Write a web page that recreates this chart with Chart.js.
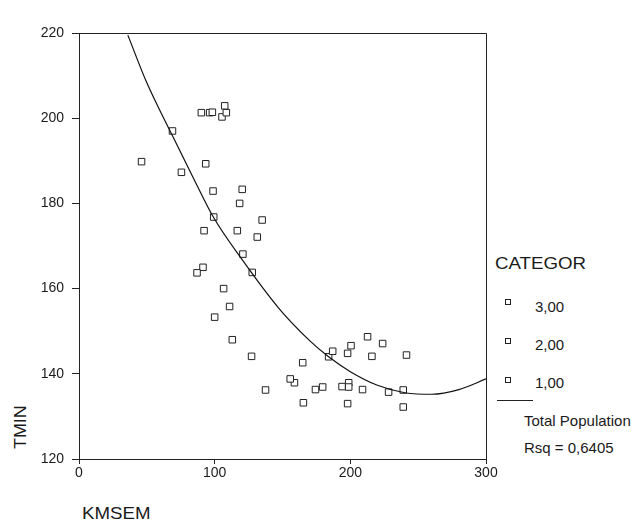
<!DOCTYPE html>
<html>
<head>
<meta charset="utf-8">
<script src="https://cdn.jsdelivr.net/npm/chart.js@4/dist/chart.umd.min.js"></script>
<style>
  html, body { margin: 0; padding: 0; background: #fff; }
  #wrap { position: relative; width: 634px; height: 530px; font-family: "Liberation Sans", Arial, sans-serif; color: #1a1a1a; }
  #chart { position: absolute; left: 0; top: 0; }
  .lbl { position: absolute; white-space: nowrap; line-height: 17px; }
  .wide { transform: scaleX(1.1); transform-origin: left top; }
  .mk { position: absolute; width: 4px; height: 4px; border: 1px solid #222; background: #fff; }
</style>
</head>
<body>
<div id="wrap">
  <div class="lbl" style="left:11px; top:449px; font-size:17px; line-height:19px; transform: rotate(-90deg) scaleX(1.05); transform-origin: left top;">TMIN</div>
  <div class="lbl wide" style="left:82px; top:504px; font-size:17px; line-height:19px;">KMSEM</div>
  <div class="lbl wide" style="left:495px; top:254px; font-size:17px; line-height:19px;">CATEGOR</div>
  <div class="mk" style="left:505px; top:299px;"></div>
  <div class="lbl" style="left:535px; top:298px; font-size:15px;">3,00</div>
  <div class="mk" style="left:505px; top:338px;"></div>
  <div class="lbl" style="left:535px; top:336px; font-size:15px;">2,00</div>
  <div class="mk" style="left:505px; top:377px;"></div>
  <div class="lbl" style="left:535px; top:374px; font-size:15px;">1,00</div>
  <div style="position:absolute; left:497px; top:400px; width:36px; height:1px; background:#222;"></div>
  <div class="lbl" style="left:524px; top:412px; font-size:15px;">Total Population</div>
  <div class="lbl" style="left:524px; top:439px; font-size:15px;">Rsq = 0,6405</div>
  <canvas id="chart" width="634" height="530"></canvas>
</div>
<script>
// Data
const cat3X = [90.2, 96.3, 98.3, 107.4, 108.6, 46.1, 93.4, 75.5, 98.8, 120.3, 165.4, 198.0, 239.0, 241.4, 155.7, 164.9, 137.5, 113.0, 100.0];
const cat3Y = [201.3, 201.3, 201.4, 202.9, 201.3, 189.8, 189.3, 187.3, 182.9, 183.3, 133.2, 133.0, 132.2, 144.4, 138.8, 142.6, 136.2, 148.0, 153.3];

const cat2X = [105.4, 118.4, 135.0, 92.2, 116.7, 131.4, 106.6, 127.2, 212.7, 215.9, 223.8, 209.0, 228.2, 239.0, 179.6, 193.9];
const cat2Y = [200.3, 180.0, 176.1, 173.6, 173.6, 172.1, 160.0, 144.1, 148.7, 144.1, 147.1, 136.3, 135.7, 136.2, 136.9, 137.0];

const cat1X = [68.9, 99.3, 120.8, 91.4, 87.0, 127.7, 111.0, 158.8, 174.3, 184.0, 187.0, 198.0, 200.5, 198.8, 198.8];
const cat1Y = [197.0, 176.8, 168.1, 165.0, 163.7, 163.8, 155.8, 137.9, 136.3, 144.0, 145.3, 144.8, 146.6, 137.9, 136.9];

// Total population fit line
const fitX = [36, 50, 69, 85, 99, 120, 147, 170, 184, 200, 220, 241, 260, 280, 300];
const fitY = [219.5, 208.3, 195.8, 185.5, 176.8, 166.9, 155.5, 147.8, 144.0, 140.5, 137.3, 135.5, 135.2, 136.3, 138.8];

const xTicks = [0, 100, 200, 300];
const yTicks = [120, 140, 160, 180, 200, 220];

function toPoints(xs, ys) {
  return xs.map((x, i) => ({ x: x, y: ys[i] }));
}

function pointSet(label, xs, ys) {
  return {
    label: label,
    data: toPoints(xs, ys),
    pointStyle: 'rect',
    pointRadius: 4.6,
    pointBorderWidth: 1,
    pointBorderColor: '#222',
    pointBackgroundColor: '#fff',
    showLine: false
  };
}

// top and right edges of the frame
const framePlugin = {
  id: 'frame',
  afterDraw(chart) {
    const a = chart.chartArea;
    const ctx = chart.ctx;
    ctx.save();
    ctx.strokeStyle = '#222';
    ctx.lineWidth = 1;
    ctx.beginPath();
    ctx.moveTo(a.left, a.top + 0.5);
    ctx.lineTo(a.right + 0.5, a.top + 0.5);
    ctx.lineTo(a.right + 0.5, a.bottom);
    ctx.stroke();
    ctx.restore();
  }
};

new Chart(document.getElementById('chart'), {
  type: 'scatter',
  data: {
    datasets: [
      {
        label: 'Total Population',
        data: toPoints(fitX, fitY),
        showLine: true,
        borderColor: '#111',
        borderWidth: 1.2,
        pointRadius: 0,
        tension: 0.4,
        cubicInterpolationMode: 'monotone'
      },
      pointSet('3,00', cat3X, cat3Y),
      pointSet('2,00', cat2X, cat2Y),
      pointSet('1,00', cat1X, cat1Y)
    ]
  },
  options: {
    responsive: false,
    animation: false,
    layout: { padding: { left: 30, right: 148, top: 33, bottom: 46 } },
    plugins: { legend: { display: false }, tooltip: { enabled: false } },
    scales: {
      x: {
        type: 'linear',
        min: 0,
        max: 300,
        afterBuildTicks: s => { s.ticks = xTicks.map(v => ({ value: v })); },
        afterFit: s => { s.height = 25; },
        grid: { drawOnChartArea: false, drawTicks: true, tickLength: 5, color: '#222' },
        border: { color: '#222', width: 1 },
        ticks: { color: '#1a1a1a', font: { family: 'Liberation Sans', size: 14 }, padding: 1 }
      },
      y: {
        type: 'linear',
        min: 120,
        max: 220,
        afterBuildTicks: s => { s.ticks = yTicks.map(v => ({ value: v })); },
        afterFit: s => { s.width = 49; },
        grid: { drawOnChartArea: false, drawTicks: true, tickLength: 7, color: '#222' },
        border: { color: '#222', width: 1 },
        ticks: { color: '#1a1a1a', font: { family: 'Liberation Sans', size: 14 }, padding: 8 }
      }
    }
  },
  plugins: [framePlugin]
});
</script>
</body>
</html>
